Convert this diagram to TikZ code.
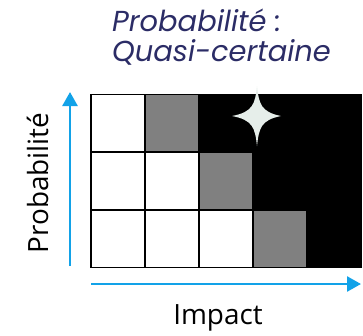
\documentclass[tikz,border=0pt]{standalone}
\usepackage{fontspec}
\setmainfont{Open Sans}
\newfontfamily\titlefont{Poppins}
\usetikzlibrary{arrows.meta,positioning}
\definecolor{Navy}{HTML}{2B2C66}
\definecolor{Sky}{HTML}{12A2E8}
\definecolor{Mid}{HTML}{808080}
\definecolor{Spark}{HTML}{E6EEEA}
\tikzset{
  >={Triangle[width=15bp,length=14bp]},
  cell/.style={draw=black,line width=1.6bp,minimum width=54bp,minimum height=57.7bp,inner sep=0pt,outer sep=0pt},
  axis/.style={->,draw=Sky,line width=2.6bp},
  axlab/.style={font=\fontsize{28}{32}\selectfont,inner sep=0pt},
  headline/.style={font=\titlefont\itshape\fontsize{29}{30}\selectfont,text=Navy,align=left,inner sep=0pt}
}

\begin{document}
\begin{tikzpicture}[x=1bp,y=-1bp]
  \useasboundingbox (0,0) rectangle (363,336);
  % grid, top row first
  \foreach \fills [count=\r] in {{white,Mid,black,black,black},{white,white,Mid,black,black},{white,white,white,Mid,black}}
    \foreach \f [count=\c] in \fills
      \node[cell,fill=\f,anchor=north west] (c-\r-\c) at ({90.7+54*(\c-1)},{94.3+57.7*(\r-1)}) {};
  % sparkle
  \fill[Spark] (257,86) .. controls (259,104) and (261,112) .. (281,116)
    .. controls (261,120) and (259,128) .. (257,146)
    .. controls (255,128) and (253,120) .. (232,116)
    .. controls (253,112) and (255,104) .. (257,86) -- cycle;
  % axes
  \coordinate (yfoot) at (70,266);
  \coordinate (ytip) at (70,92);
  \coordinate (xfoot) at (91,284);
  \coordinate (xtip) at (361,284);
  \draw[axis] (yfoot)--(ytip);
  \draw[axis] (xfoot)--(xtip);
  \node[axlab,rotate=90] (ylab) at (38,183) {Probabilité};
  \node[axlab] (xlab) at (218,318) {Impact};
  \node[headline,anchor=west] (head) at (112,37) {Probabilité :\\Quasi-certaine};
\end{tikzpicture}
\end{document}
